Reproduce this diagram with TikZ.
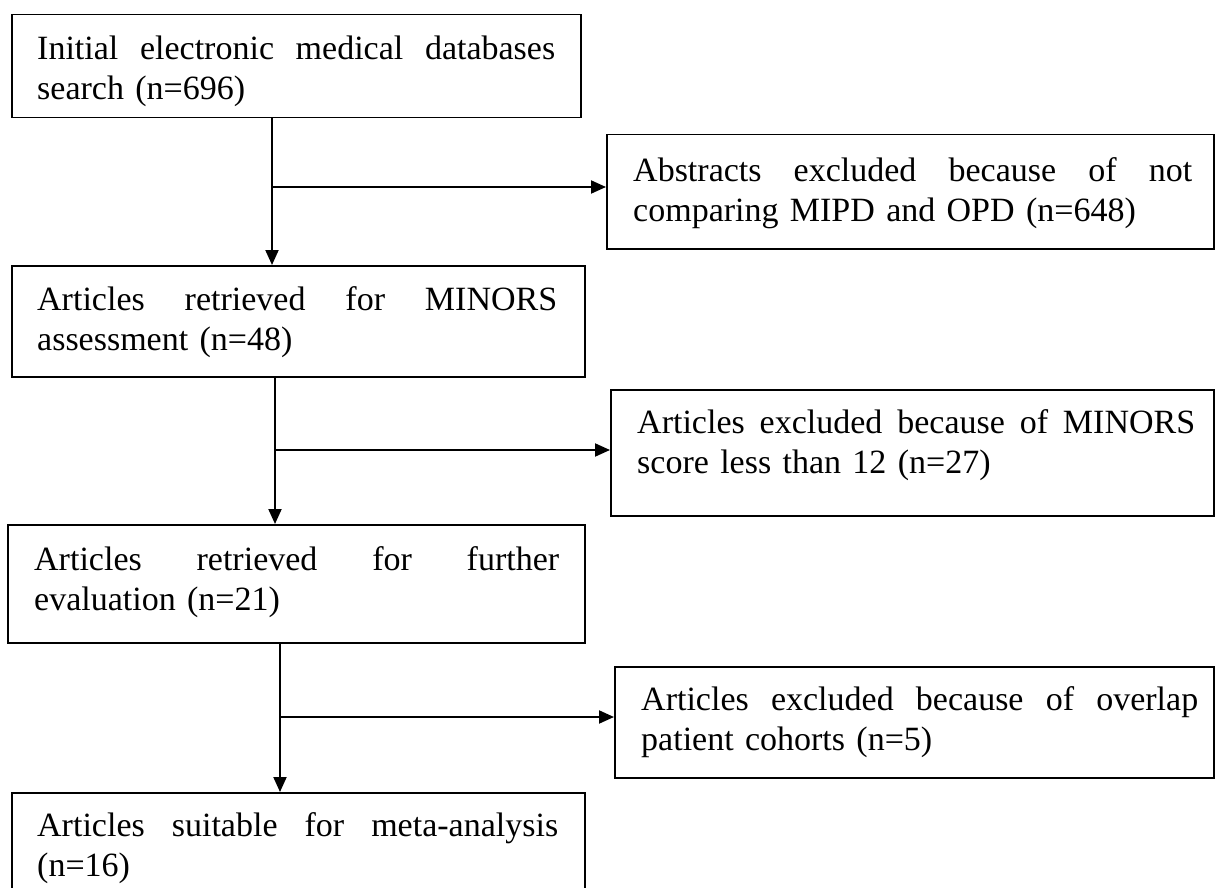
\documentclass[tikz,border=0pt]{standalone}
\usepackage{fontspec}
\setmainfont{Liberation Serif}
\usetikzlibrary{arrows.meta,calc}
\newcommand{\jline}[2]{\hbox to #1{#2}}
\begin{document}
\begin{tikzpicture}[x=1pt,y=-1pt,
  box/.style={draw, line width=1.5pt, inner sep=0pt, anchor=north west},
  txt/.style={inner sep=0pt, anchor=base west, align=left, font=\fontsize{34}{40}\selectfont},
  arr/.style={line width=2pt, -{Triangle[length=15pt,width=13pt]}}]
\useasboundingbox (0,0) rectangle (1215,888);
% left column boxes
\node[box, minimum width=569pt, minimum height=103pt] (b1) at (11,14) {};
\node[box, minimum width=573pt, minimum height=111pt] (b2) at (11,265) {};
\node[box, minimum width=577pt, minimum height=118pt] (b3) at (7,524) {};
\node[box, minimum width=573pt, minimum height=100pt] (b4) at (11,792) {};
% right column boxes
\node[box, minimum width=607pt, minimum height=114pt] (r1) at (606,134) {};
\node[box, minimum width=603pt, minimum height=126pt] (r2) at (610,389) {};
\node[box, minimum width=599pt, minimum height=111pt] (r3) at (614,666) {};
% texts
\node[txt, text width=518pt] (t1) at (37,60) {\jline{518pt}{Initial\hfill electronic\hfill medical\hfill databases}\\search (n=696)};
\node[txt, text width=520pt] (t2) at (37,310) {\jline{520pt}{Articles\hfill retrieved\hfill for\hfill MINORS}\\assessment (n=48)};
\node[txt, text width=525pt] (t3) at (34,570) {\jline{525pt}{Articles\hfill retrieved\hfill for\hfill further}\\evaluation (n=21)};
\node[txt, text width=521pt] (t4) at (37,836) {\jline{521pt}{Articles\hfill suitable\hfill for\hfill meta-analysis}\\(n=16)};
\node[txt, text width=559pt] (s1) at (633,181) {\jline{559pt}{Abstracts\hfill excluded\hfill because\hfill of\hfill not}\\comparing MIPD and OPD (n=648)};
\node[txt, text width=558pt] (s2) at (637,433) {\jline{558pt}{Articles\hfill excluded\hfill because\hfill of\hfill MINORS}\\score less than 12 (n=27)};
\node[txt, text width=557pt] (s3) at (641,710) {\jline{557pt}{Articles\hfill excluded\hfill because\hfill of\hfill overlap}\\patient cohorts (n=5)};
% connectors
\coordinate (j1) at (272,187);
\coordinate (j2) at (275,450);
\coordinate (j3) at (280,717);
\draw[arr] (j1 |- b1.south) -- (j1 |- b2.north);
\draw[arr] (j1) -- (j1 -| r1.west);
\draw[arr] (j2 |- b2.south) -- (j2 |- b3.north);
\draw[arr] (j2) -- (j2 -| r2.west);
\draw[arr] (j3 |- b3.south) -- (j3 |- b4.north);
\draw[arr] (j3) -- (j3 -| r3.west);
\end{tikzpicture}
\end{document}
